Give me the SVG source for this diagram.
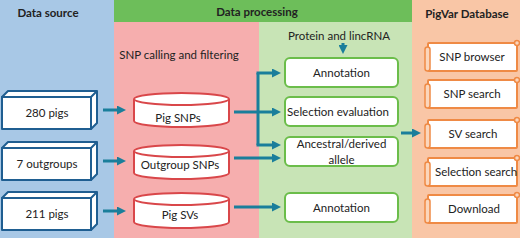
<svg xmlns="http://www.w3.org/2000/svg" width="520" height="238" viewBox="0 0 520 238">
<style>
.t{font-family:Lato,"Open Sans","Liberation Sans",sans-serif;font-size:11.5px;fill:#222;text-anchor:middle}
.h{font-family:Lato,"Open Sans","Liberation Sans",sans-serif;font-size:11.5px;font-weight:bold;fill:#222;text-anchor:middle}
.box3d{fill:#fff;stroke:#1F5E91;stroke-width:2;stroke-linejoin:round}
.cyl{fill:#fff;stroke:#D9474A;stroke-width:2}
.gbox{fill:#fff;stroke:#6BBD4A;stroke-width:2}
.scroll{fill:#fff;stroke:#EF8A45;stroke-width:2}
.curl{fill:#FBD6BC;stroke:#EF8A45;stroke-width:1.5}
.con{fill:none;stroke:#1A7E9B;stroke-width:3}
</style>
<defs>
<marker id="ah" markerUnits="userSpaceOnUse" markerWidth="9" markerHeight="9" refX="5" refY="4.5" orient="auto">
<path d="M0,0 L9,4.5 L0,9 z" fill="#1A7E9B"/>
</marker>
</defs>
<!-- backgrounds -->
<rect x="0" y="0" width="114" height="238" fill="#A8C8E6"/>
<rect x="114" y="0" width="298" height="22" fill="#6DBE5A"/>
<rect x="114" y="22" width="145" height="216" fill="#F6AEAE"/>
<rect x="259" y="22" width="153" height="216" fill="#C8E4B6"/>
<rect x="412" y="0" width="108" height="238" fill="#F9C6A6"/>
<text class="h" x="48" y="17">Data source</text>
<text class="h" x="257" y="16">Data processing</text>
<text class="h" x="467" y="18">PigVar Database</text>
<text class="t" x="179" y="59">SNP calling and filtering</text>
<text class="t" x="339" y="40">Protein and lincRNA</text>

<!-- source boxes -->
<g id="src1">
<path class="box3d" d="M2,97 L8,91 L97,91 L91,97 Z M91,97 L97,91 L97,123 L91,129 Z"/>
<rect class="box3d" x="2" y="97" width="89" height="32"/>
<text class="t" x="47" y="117">280 pigs</text>
</g>
<g id="src2">
<path class="box3d" d="M2,148 L8,142 L97,142 L91,148 Z M91,148 L97,142 L97,174 L91,180 Z"/>
<rect class="box3d" x="2" y="148" width="89" height="32"/>
<text class="t" x="47" y="168">7 outgroups</text>
</g>
<g id="src3">
<path class="box3d" d="M2,198 L8,192 L97,192 L91,198 Z M91,198 L97,192 L97,224 L91,230 Z"/>
<rect class="box3d" x="2" y="198" width="89" height="32"/>
<text class="t" x="47" y="218">211 pigs</text>
</g>

<!-- cylinders -->
<g id="pigsnps">
<path class="cyl" d="M134,99 V121 A47.5,6 0 0 0 229,121 V99"/>
<ellipse class="cyl" cx="181.5" cy="99" rx="47.5" ry="6"/>
<text class="t" x="178" y="122">Pig SNPs</text>
</g>
<g id="outsnps">
<path class="cyl" d="M134,151 V173 A47.5,6 0 0 0 229,173 V151"/>
<ellipse class="cyl" cx="181.5" cy="151" rx="47.5" ry="6"/>
<text class="t" x="180" y="169">Outgroup SNPs</text>
</g>
<g id="pigsvs">
<path class="cyl" d="M134,199 V222 A47.5,6 0 0 0 229,222 V199"/>
<ellipse class="cyl" cx="181.5" cy="199" rx="47.5" ry="6"/>
<text class="t" x="180" y="219">Pig SVs</text>
</g>

<!-- green boxes -->
<g id="annot1">
<rect class="gbox" x="285" y="58" width="113" height="29" rx="5"/>
<text class="t" x="341.5" y="77">Annotation</text>
</g>
<g id="selev">
<rect class="gbox" x="285" y="97" width="113" height="29" rx="5"/>
<text class="t" x="338" y="116">Selection evaluation</text>
</g>
<g id="ancder">
<rect class="gbox" x="285" y="137" width="113" height="29" rx="5"/>
<text class="t" x="341.5" y="148">Ancestral/derived</text>
<text class="t" x="341.5" y="164">allele</text>
</g>
<g id="annot2">
<rect class="gbox" x="285" y="193" width="113" height="29" rx="5"/>
<text class="t" x="341.5" y="212">Annotation</text>
</g>

<!-- scroll boxes -->
<g id="snpbrowser">
<rect class="scroll" x="428" y="43" width="89" height="28" rx="1"/>
<rect class="curl" x="425" y="47" width="5" height="24" rx="2.5"/>
<circle class="curl" cx="517" cy="43" r="2.5"/>
<text class="t" x="472" y="61">SNP browser</text>
</g>
<g id="snpsearch">
<rect class="scroll" x="428" y="80" width="89" height="28" rx="1"/>
<rect class="curl" x="425" y="84" width="5" height="24" rx="2.5"/>
<circle class="curl" cx="517" cy="80" r="2.5"/>
<text class="t" x="472" y="98">SNP search</text>
</g>
<g id="svsearch">
<rect class="scroll" x="428" y="120" width="89" height="28" rx="1"/>
<rect class="curl" x="425" y="124" width="5" height="24" rx="2.5"/>
<circle class="curl" cx="517" cy="120" r="2.5"/>
<text class="t" x="473" y="138">SV search</text>
</g>
<g id="selsearch">
<rect class="scroll" x="428" y="158" width="89" height="28" rx="1"/>
<rect class="curl" x="425" y="162" width="5" height="24" rx="2.5"/>
<circle class="curl" cx="517" cy="158" r="2.5"/>
<text class="t" x="476" y="176">Selection search</text>
</g>
<g id="download">
<rect class="scroll" x="428" y="195" width="89" height="28" rx="1"/>
<rect class="curl" x="425" y="199" width="5" height="24" rx="2.5"/>
<circle class="curl" cx="517" cy="195" r="2.5"/>
<text class="t" x="474" y="213">Download</text>
</g>

<!-- connectors -->
<g id="connectors">
<path class="con" d="M103,110 H122" marker-end="url(#ah)"/>
<path class="con" d="M103,161 H122" marker-end="url(#ah)"/>
<path class="con" d="M103,211 H122" marker-end="url(#ah)"/>
<path class="con" d="M234,112 H277" marker-end="url(#ah)"/>
<path class="con" d="M258,73 V145"/>
<path class="con" d="M256.5,73 H277" marker-end="url(#ah)"/>
<path class="con" d="M256.5,145 H277" marker-end="url(#ah)"/>
<path class="con" d="M234,158 H277" marker-end="url(#ah)"/>
<path class="con" d="M234,207 H277" marker-end="url(#ah)"/>
<path class="con" d="M343,43 V50" marker-end="url(#ah)"/>
<path class="con" d="M401,133 H417" marker-end="url(#ah)"/>
</g>
</svg>
